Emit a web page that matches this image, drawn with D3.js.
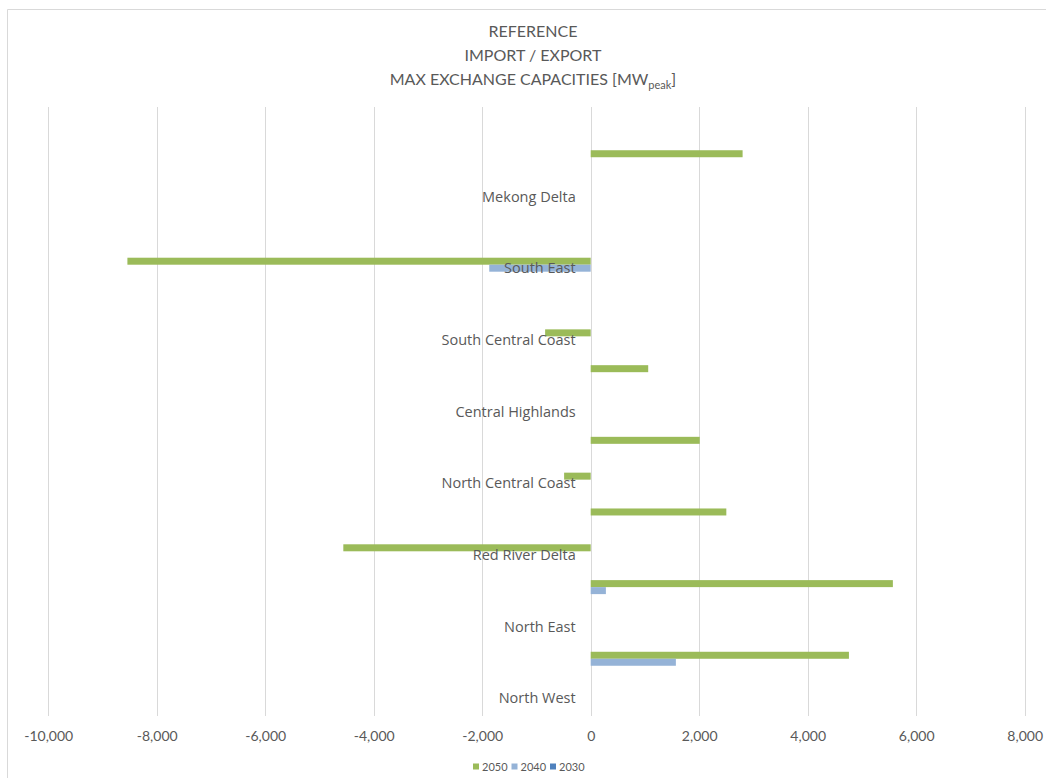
<!DOCTYPE html>
<html>
<head>
<meta charset="utf-8">
<script src="https://cdn.jsdelivr.net/npm/d3@7/dist/d3.min.js"></script>
<style>
  html, body { margin: 0; padding: 0; background: #fff; }
  svg { display: block; }
</style>
</head>
<body>
<svg id="chart" width="1046" height="778"></svg>
<script>
// ---- data (bottom to top) ----
const categories = ["North West", "", "North East", "", "Red River Delta", "", "North Central Coast", "",
  "Central Highlands", "", "South Central Coast", "", "South East", "", "Mekong Delta", "", ""];
const series = ["2050", "2040", "2030"];
const values2050 = [0, 4760, 0, 5570, -4560, 2500, -490, 2010, 0, 1060, -840, 0, -8540, 0, 0, 2800, 0];
const values2040 = [0, 1570, 0, 280, 0, 0, 0, 0, 0, 0, 0, 0, -1870, 0, 0, 0, 0];
const values2030 = [0, 0, 0, 0, 0, 0, 0, 0, 0, 0, 0, 0, 0, 0, 0, 0, 0];
const xTicks = [-10000, -8000, -6000, -4000, -2000, 0, 2000, 4000, 6000, 8000];
const titleLines = ["REFERENCE", "IMPORT / EXPORT"];
const colors = { "2050": "#9BBB59", "2040": "#95B3D7", "2030": "#4F81BD" };

const seriesValues = { "2050": values2050, "2040": values2040, "2030": values2030 };

const svg = d3.select("#chart");
const textColor = "#595959";

// chart border
svg.append("path")
  .attr("d", "M7.5,800 L7.5,9.5 L1100,9.5")
  .attr("fill", "none").attr("stroke", "#d9d9d9").attr("stroke-width", 1);

const plot = { left: 48.2, right: 1024.7, top: 107, bottom: 716 };

const x = d3.scaleLinear().domain([-10000, 8000]).range([plot.left, plot.right]);
const y = d3.scaleBand().domain(d3.range(categories.length))
  .range([plot.bottom, plot.top]).paddingInner(0.414).paddingOuter(0.207);
const ySub = d3.scaleBand().domain(series).range([0, y.bandwidth()]);

// gridlines
svg.append("g").selectAll("line").data(xTicks).join("line")
  .attr("x1", d => Math.round(x(d)) + 0.5).attr("x2", d => Math.round(x(d)) + 0.5)
  .attr("y1", plot.top).attr("y2", plot.bottom)
  .attr("stroke", "#d9d9d9").attr("stroke-width", 1);

// x axis labels
const fmt = d3.format(",");
const xAxis = d3.axisBottom(x).tickValues(xTicks).tickSize(0).tickPadding(0)
  .tickFormat(d => fmt(d).replace("\u2212", "-"));
const gx = svg.append("g").attr("transform", `translate(0, ${plot.bottom + 15})`).call(xAxis);
gx.select(".domain").remove();
gx.selectAll("text")
  .attr("fill", textColor).attr("font-family", "Lato, 'Open Sans', sans-serif")
  .attr("font-size", "14px");

// bars
const rows = [];
categories.forEach((c, i) => {
  series.forEach(s => rows.push({ i, s, v: seriesValues[s][i] }));
});
svg.append("g").selectAll("rect").data(rows.filter(r => r.v !== 0)).join("rect")
  .attr("x", d => x(Math.min(0, d.v)))
  .attr("width", d => Math.abs(x(d.v) - x(0)))
  .attr("y", d => y(d.i) + ySub(d.s))
  .attr("height", ySub.bandwidth())
  .attr("fill", d => colors[d.s]);

// category labels (next to axis)
svg.append("g").selectAll("text").data(categories.map((c, i) => ({ c, i })).filter(d => d.c !== ""))
  .join("text")
  .attr("x", x(0) - 15)
  .attr("y", d => y(d.i) + y.bandwidth() / 2)
  .attr("dy", "0.35em")
  .attr("text-anchor", "end")
  .attr("fill", textColor)
  .attr("font-family", "'Open Sans', sans-serif")
  .attr("font-size", "14.5px")
  .text(d => d.c);

// title
const title = svg.append("text").attr("text-anchor", "middle")
  .attr("fill", textColor).attr("font-family", "Lato, 'Open Sans', sans-serif")
  .attr("font-size", "16px");
titleLines.forEach((t, k) => {
  title.append("tspan").attr("x", 533).attr("y", 37 + k * 24).text(t);
});
const t3 = title.append("tspan").attr("x", 533).attr("y", 85);
t3.append("tspan").text("MAX EXCHANGE CAPACITIES [MW");
t3.append("tspan").attr("font-size", "11px").attr("dy", 4).text("peak");
t3.append("tspan").attr("dy", -4).text("]");

// legend
const legend = svg.append("g").attr("transform", "translate(473, 767)");
const lg = legend.selectAll("g").data(series).join("g")
  .attr("transform", (d, k) => `translate(${k * 38.5}, 0)`);
lg.append("rect").attr("x", 0).attr("y", -3.5).attr("width", 6).attr("height", 6)
  .attr("fill", d => colors[d]);
lg.append("text").attr("x", 9).attr("y", 0).attr("dy", "0.35em")
  .attr("fill", textColor).attr("font-family", "Lato, 'Open Sans', sans-serif")
  .attr("font-size", "11px").text(d => d);
</script>
</body>
</html>
